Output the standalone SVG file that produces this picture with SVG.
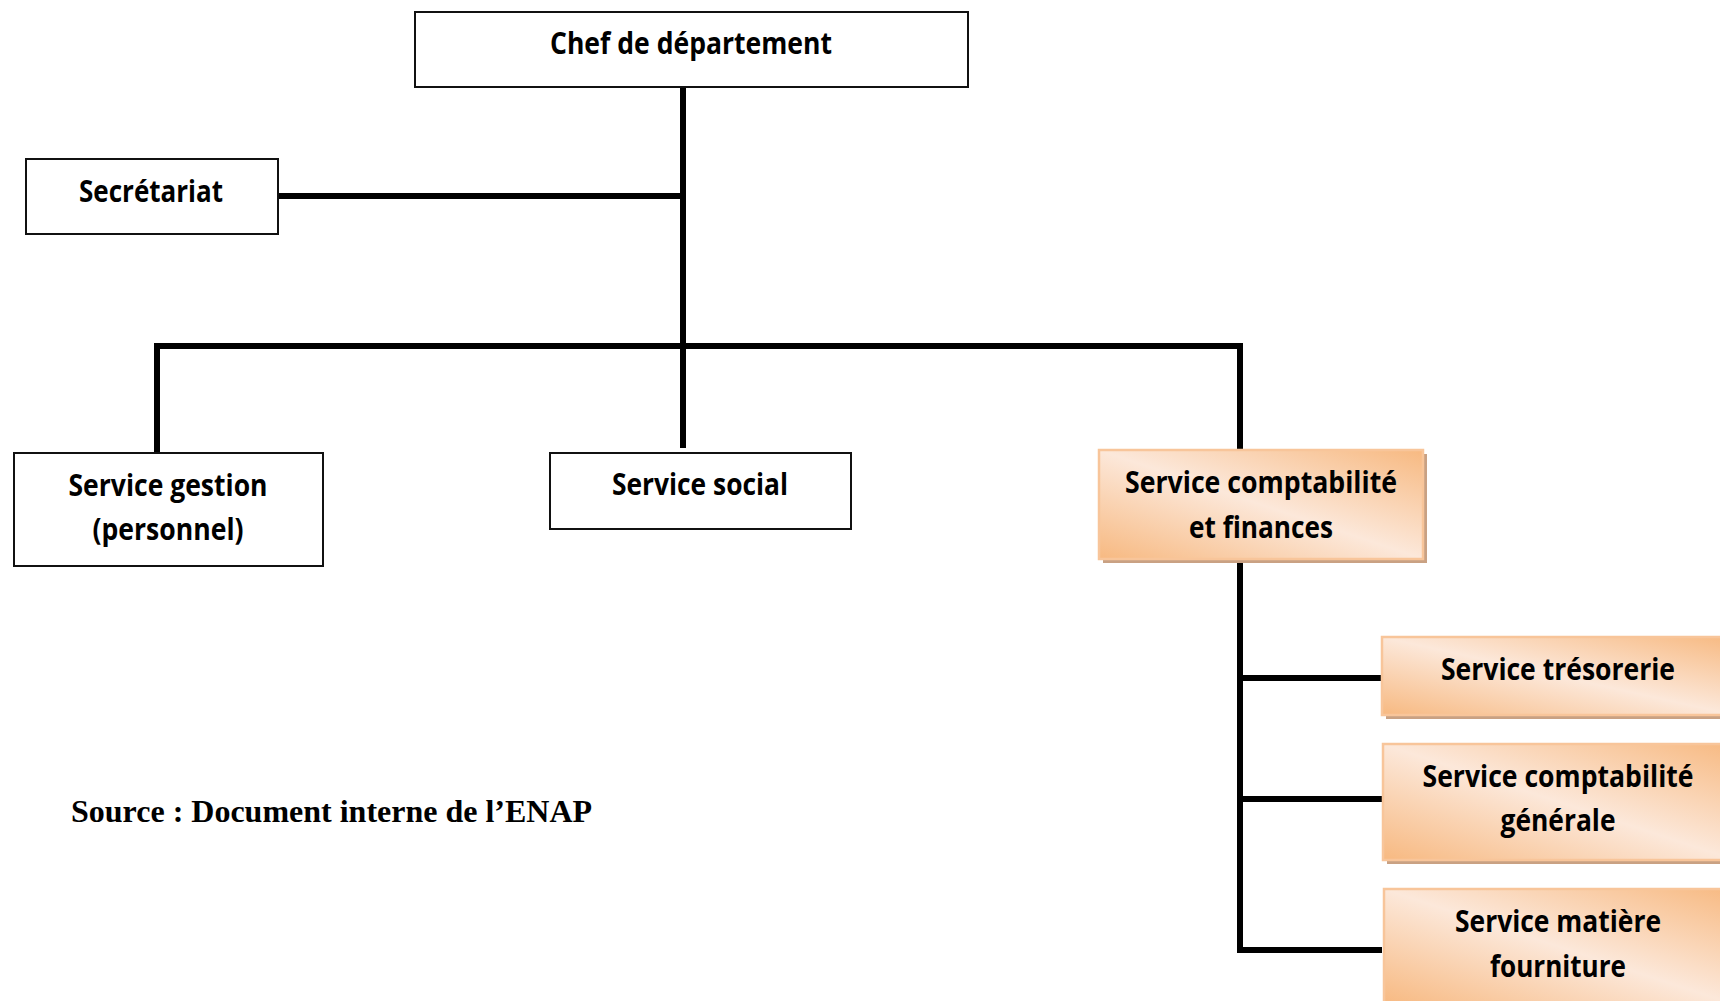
<svg xmlns="http://www.w3.org/2000/svg" width="1720" height="1001" viewBox="0 0 1720 1001">
  <defs>
    <linearGradient id="peach" x1="0" y1="1" x2="1" y2="0">
      <stop offset="0" stop-color="#f7b981"/>
      <stop offset="0.5" stop-color="#fce8da"/>
      <stop offset="1" stop-color="#f7b981"/>
    </linearGradient>
    <style>
      .box { fill: #ffffff; stroke: #111111; stroke-width: 2; }
      .obox { fill: url(#peach); stroke: #f8c59a; stroke-width: 2.5; }
      .shadow { fill: #c9a183; }
      .lbl { font-family: "Open Sans", "Lato", "Liberation Sans", sans-serif; font-weight: bold; font-size: 30px; fill: #000000; text-anchor: middle; }
      .src { font-family: "Liberation Serif", "Times New Roman", serif; font-weight: bold; font-size: 32px; fill: #000000; }
      .conn { stroke: #000000; stroke-width: 6; fill: none; stroke-linecap: butt; }
    </style>
  </defs>
  <rect width="1720" height="1001" fill="#ffffff"/>

  <g id="connectors">
    <line class="conn" x1="683" y1="87" x2="683" y2="448"/>
    <line class="conn" x1="278" y1="196" x2="681" y2="196"/>
    <polyline class="conn" points="157,455 157,346 1240,346 1240,450"/>
    <polyline class="conn" points="1240,559 1240,950 1382,950"/>
    <line class="conn" x1="1240" y1="678" x2="1382" y2="678"/>
    <line class="conn" x1="1240" y1="799" x2="1383" y2="799"/>
  </g>

  <g id="chef">
    <rect class="box" x="415" y="12" width="553" height="75"/>
    <text class="lbl" x="691" y="54" textLength="282" lengthAdjust="spacingAndGlyphs">Chef de département</text>
  </g>

  <g id="secretariat">
    <rect class="box" x="26" y="159" width="252" height="75"/>
    <text class="lbl" x="151" y="202" textLength="144" lengthAdjust="spacingAndGlyphs">Secrétariat</text>
  </g>

  <g id="service-gestion">
    <rect class="box" x="14" y="453" width="309" height="113"/>
    <text class="lbl" x="168" y="496" textLength="199" lengthAdjust="spacingAndGlyphs">Service gestion</text>
    <text class="lbl" x="168" y="540" textLength="151" lengthAdjust="spacingAndGlyphs">(personnel)</text>
  </g>

  <g id="service-social">
    <rect class="box" x="550" y="453" width="301" height="76"/>
    <text class="lbl" x="700" y="495" textLength="176" lengthAdjust="spacingAndGlyphs">Service social</text>
  </g>

  <g id="service-comptabilite-finances">
    <rect class="shadow" x="1103" y="454" width="324" height="109"/>
    <rect class="obox" x="1099" y="450" width="324" height="109"/>
    <text class="lbl" x="1261" y="493" textLength="272" lengthAdjust="spacingAndGlyphs">Service comptabilité</text>
    <text class="lbl" x="1261" y="538" textLength="144" lengthAdjust="spacingAndGlyphs">et finances</text>
  </g>

  <g id="service-tresorerie">
    <rect class="shadow" x="1386" y="641" width="352" height="78"/>
    <rect class="obox" x="1382" y="637" width="352" height="78"/>
    <text class="lbl" x="1558" y="680" textLength="234" lengthAdjust="spacingAndGlyphs">Service trésorerie</text>
  </g>

  <g id="service-comptabilite-generale">
    <rect class="shadow" x="1387" y="748" width="352" height="116"/>
    <rect class="obox" x="1383" y="744" width="352" height="116"/>
    <text class="lbl" x="1558" y="787" textLength="271" lengthAdjust="spacingAndGlyphs">Service comptabilité</text>
    <text class="lbl" x="1558" y="831" textLength="115" lengthAdjust="spacingAndGlyphs">générale</text>
  </g>

  <g id="service-matiere-fourniture">
    <rect class="shadow" x="1388" y="893" width="352" height="116"/>
    <rect class="obox" x="1384" y="889" width="352" height="116"/>
    <text class="lbl" x="1558" y="932" textLength="206" lengthAdjust="spacingAndGlyphs">Service matière</text>
    <text class="lbl" x="1558" y="977" textLength="136" lengthAdjust="spacingAndGlyphs">fourniture</text>
  </g>

  <text class="src" x="71" y="822">Source : Document interne de l’ENAP</text>
</svg>
